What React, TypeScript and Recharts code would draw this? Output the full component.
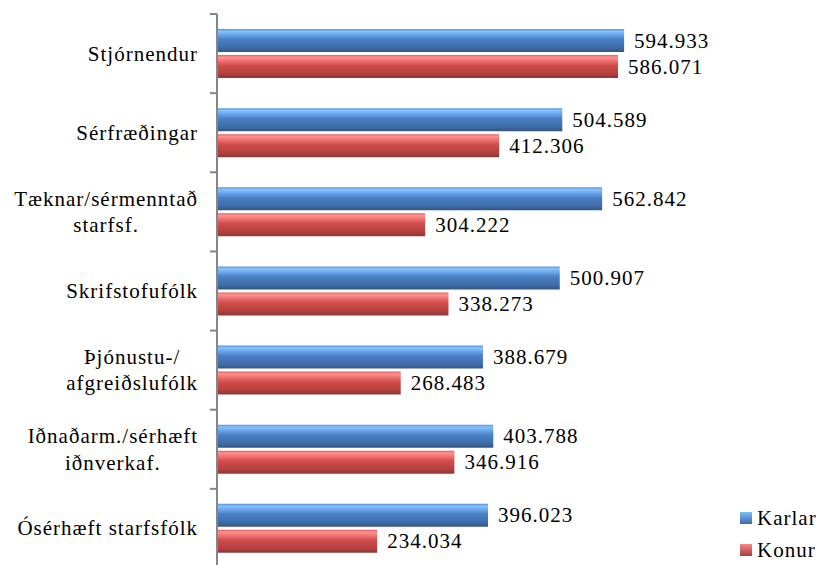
import { BarChart, Bar, XAxis, YAxis, LabelList } from 'recharts';

// Launafólk eftir starfsstétt, karlar og konur
const categories = [
  'Stjórnendur',
  'Sérfræðingar',
  'Tæknar/sérmenntað\nstarfsf.',
  'Skrifstofufólk',
  'Þjónustu-/\nafgreiðslufólk',
  'Iðnaðarm./sérhæft\niðnverkaf.',
  'Ósérhæft starfsfólk',
];
const karlar = [594933, 504589, 562842, 500907, 388679, 403788, 396023];
const konur = [586071, 412306, 304222, 338273, 268483, 346916, 234034];
const xDomain = [0, 700000];

const FONT = "'Liberation Serif', 'Times New Roman', 'DejaVu Serif', serif";
const FONT_SIZE = 21;
const SPACING = 1;

const chartW = 820;
const chartH = 590;
const margin = { top: 14, right: 124, bottom: 22, left: 0 };
const yAxisW = 217;
const plotH = chartH - margin.top - margin.bottom;
const bandH = plotH / categories.length;

const data = categories.map((name, i) => ({ name, karlar: karlar[i], konur: konur[i] }));

const fmt = (v: number) => String(v).replace(/\B(?=(\d{3})+(?!\d))/g, '.');

const textStyle = { fontFamily: FONT, fontSize: FONT_SIZE, letterSpacing: SPACING };

let ctx: CanvasRenderingContext2D | null = null;
const measure = (s: string) => {
  if (!ctx) ctx = document.createElement('canvas').getContext('2d');
  if (!ctx) return s.length * 10;
  ctx.font = `${FONT_SIZE}px ${FONT}`;
  return ctx.measureText(s).width + s.length * SPACING;
};

const CategoryTick = (props: any) => {
  const { y, payload, index } = props;
  const lines: string[] = String(payload.value).split('\n');
  const right = 198;
  const axisX = margin.left + yAxisW;
  const lineH = 26.7;
  const w = Math.max(...lines.map(measure));
  const cx = right - w / 2;
  const top = y - bandH / 2;
  return (
    <g>
      <line x1={axisX - 7} x2={axisX} y1={top} y2={top} stroke="#868686" strokeWidth={2} />
      {index === categories.length - 1 && (
        <line x1={axisX - 7} x2={axisX} y1={top + bandH} y2={top + bandH} stroke="#868686" strokeWidth={2} />
      )}
      {lines.map((l, i) => (
        <text
          key={i}
          x={lines.length === 1 ? right : cx}
          y={y + (i - (lines.length - 1) / 2) * lineH}
          textAnchor={lines.length === 1 ? 'end' : 'middle'}
          dominantBaseline="central"
          style={textStyle}
          fill="#000"
        >
          {l}
        </text>
      ))}
    </g>
  );
};

const ValueLabel = (props: any) => {
  const { x, y, width, height, value } = props;
  return (
    <text x={x + width + 10} y={y + height / 2} dominantBaseline="central" style={textStyle} fill="#000">
      {fmt(value)}
    </text>
  );
};

const legendItems = [
  { label: 'Karlar', from: '#7fbcf5', to: '#3b6aa8' },
  { label: 'Konur', from: '#f58a88', to: '#a83c3a' },
];

export default function App() {
  return (
    <div style={{ position: 'fixed', left: 0, top: 0, width: 820, height: 565, overflow: 'hidden', background: '#fff' }}>
      <BarChart
        width={chartW}
        height={chartH}
        data={data}
        layout="vertical"
        margin={margin}
        barSize={23}
        barGap={3}
      >
        <defs>
          <linearGradient id="gBlue" x1="0" y1="0" x2="0" y2="1">
            <stop offset="0%" stopColor="#5b93d6" />
            <stop offset="10%" stopColor="#86c2fb" />
            <stop offset="25%" stopColor="#6aa6ec" />
            <stop offset="45%" stopColor="#4a80c4" />
            <stop offset="80%" stopColor="#3e6dab" />
            <stop offset="92%" stopColor="#375f94" />
            <stop offset="100%" stopColor="#3a5578" />
          </linearGradient>
          <linearGradient id="gRed" x1="0" y1="0" x2="0" y2="1">
            <stop offset="0%" stopColor="#e06060" />
            <stop offset="10%" stopColor="#ff9290" />
            <stop offset="25%" stopColor="#f07270" />
            <stop offset="45%" stopColor="#d04d4b" />
            <stop offset="80%" stopColor="#b5403e" />
            <stop offset="92%" stopColor="#9c3a38" />
            <stop offset="100%" stopColor="#834040" />
          </linearGradient>
        </defs>
        <XAxis type="number" domain={xDomain} hide />
        <YAxis
          type="category"
          dataKey="name"
          width={yAxisW}
          axisLine={{ stroke: '#868686', strokeWidth: 2 }}
          tickLine={false}
          tick={<CategoryTick />}
          interval={0}
        />
        <Bar dataKey="karlar" name="Karlar" fill="url(#gBlue)" isAnimationActive={false}>
          <LabelList dataKey="karlar" content={<ValueLabel />} />
        </Bar>
        <Bar dataKey="konur" name="Konur" fill="url(#gRed)" isAnimationActive={false}>
          <LabelList dataKey="konur" content={<ValueLabel />} />
        </Bar>
      </BarChart>
      <div style={{ position: 'absolute', left: 740, top: 502, ...textStyle, color: '#000' }}>
        {legendItems.map((it) => (
          <div key={it.label} style={{ display: 'flex', alignItems: 'center', height: 32 }}>
            <span
              style={{
                display: 'inline-block',
                width: 12,
                height: 12,
                marginRight: 5,
                background: `linear-gradient(${it.from}, ${it.to})`,
              }}
            />
            <span>{it.label}</span>
          </div>
        ))}
      </div>
    </div>
  );
}
